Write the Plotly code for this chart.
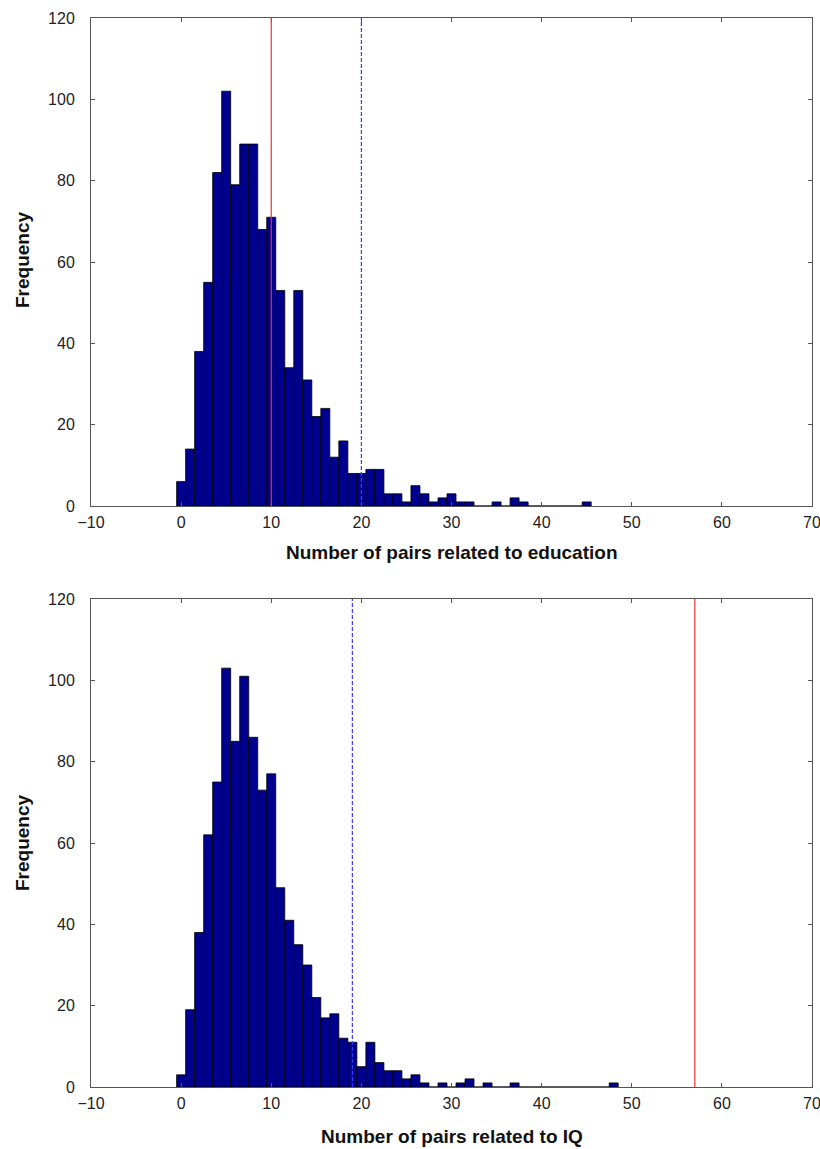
import plotly.graph_objects as go
from plotly.subplots import make_subplots

# ---- Data ----
bins_edu = list(range(0, 46))
counts_edu = [6, 14, 38, 55, 82, 102, 79, 89, 89, 68,
              71, 53, 34, 53, 31, 22, 24, 12, 16, 8,
              8, 9, 9, 3, 3, 1, 5, 3, 1, 2,
              3, 1, 1, 0, 0, 1, 0, 2, 1, 0,
              0, 0, 0, 0, 0, 1]
observed_edu = 10
threshold_edu = 20

bins_iq = list(range(0, 49))
counts_iq = [3, 19, 38, 62, 75, 103, 85, 101, 86, 73,
             77, 49, 41, 35, 30, 22, 17, 18, 12, 11,
             5, 11, 6, 4, 4, 2, 3, 1, 0, 1,
             0, 1, 2, 0, 1, 0, 0, 1, 0, 0,
             0, 0, 0, 0, 0, 0, 0, 0, 1]
observed_iq = 57
threshold_iq = 19

x_ticks = [-10, 0, 10, 20, 30, 40, 50, 60, 70]
y_ticks = [0, 20, 40, 60, 80, 100, 120]
x_title_edu = "Number of pairs related to education"
x_title_iq = "Number of pairs related to IQ"
y_title = "Frequency"

BAR_FILL = "#00008F"
FONT = "Liberation Sans, Arial, sans-serif"

fig = make_subplots(rows=2, cols=1)

panels = [
    (1, bins_edu, counts_edu, observed_edu, threshold_edu),
    (2, bins_iq, counts_iq, observed_iq, threshold_iq),
]
for row, bx, cy, obs, thr in panels:
    fig.add_trace(go.Bar(x=bx, y=cy, width=1.0,
                         marker=dict(color=BAR_FILL, line=dict(color="#000000", width=0.8)),
                         showlegend=False), row=row, col=1)
    xref = "x" if row == 1 else "x2"
    yref = "y domain" if row == 1 else "y2 domain"
    fig.add_shape(type="line", xref=xref, yref=yref, x0=obs, x1=obs, y0=0, y1=1,
                  line=dict(color="#F03030", width=1.2))
    fig.add_shape(type="line", xref=xref, yref=yref, x0=thr, x1=thr, y0=0, y1=1,
                  line=dict(color="#3A3AFF", width=1.2, dash="4px,2px"))

axis_common = dict(showline=True, linecolor="#555555", linewidth=1, mirror="ticks",
                   ticks="inside", ticklen=4, tickcolor="#555555", showgrid=False,
                   zeroline=False, automargin=False, ticklabeloverflow="allow",
                   tickfont=dict(family=FONT, size=16, color="#222222"))

for r in (1, 2):
    fig.update_xaxes(range=[-10, 70], tickvals=x_ticks, row=r, col=1,
                     ticklabelstandoff=2, **axis_common)
    fig.update_yaxes(range=[0, 120], tickvals=y_ticks, row=r, col=1,
                     ticklabelstandoff=12, **axis_common)

W, H = 820, 1149
left, right, top, bottom = 91, 8, 18, 1149 - 1087
plot_h = H - top - bottom
plot_w = W - left - right
fig.update_layout(
    width=W, height=H,
    margin=dict(l=left, r=right, t=top, b=bottom, autoexpand=False),
    plot_bgcolor="white", paper_bgcolor="white",
    bargap=0,
    yaxis=dict(domain=[(1087 - 506) / plot_h, 1]),
    yaxis2=dict(domain=[0, (1087 - 599) / plot_h]),
    xaxis=dict(domain=[0, 1]),
    xaxis2=dict(domain=[0, 1]),
    font=dict(family=FONT, color="#222222"),
)

title_font = dict(family=FONT, size=19, color="#111111")
annots = [
    dict(text="<b>%s</b>" % x_title_edu, xref="paper", yref="paper", x=0.5,
         y=(1087 - 552) / plot_h, yanchor="middle", showarrow=False, font=title_font),
    dict(text="<b>%s</b>" % x_title_iq, xref="paper", yref="paper", x=0.5,
         y=-(1136 - 1087) / plot_h, yanchor="middle", showarrow=False, font=title_font),
    dict(text="<b>%s</b>" % y_title, xref="paper", yref="paper", x=-(91 - 22) / plot_w,
         xanchor="center", y=(1087 - 260) / plot_h, yanchor="middle", textangle=-90,
         showarrow=False, font=title_font),
    dict(text="<b>%s</b>" % y_title, xref="paper", yref="paper", x=-(91 - 22) / plot_w,
         xanchor="center", y=(1087 - 843) / plot_h, yanchor="middle", textangle=-90,
         showarrow=False, font=title_font),
]
fig.update_layout(annotations=annots)

fig.write_html("out.html", default_width="%dpx" % W, default_height="%dpx" % H,
               config={"displayModeBar": False, "staticPlot": True},
               post_script="document.body.style.margin='0';document.body.style.overflow='hidden';")
